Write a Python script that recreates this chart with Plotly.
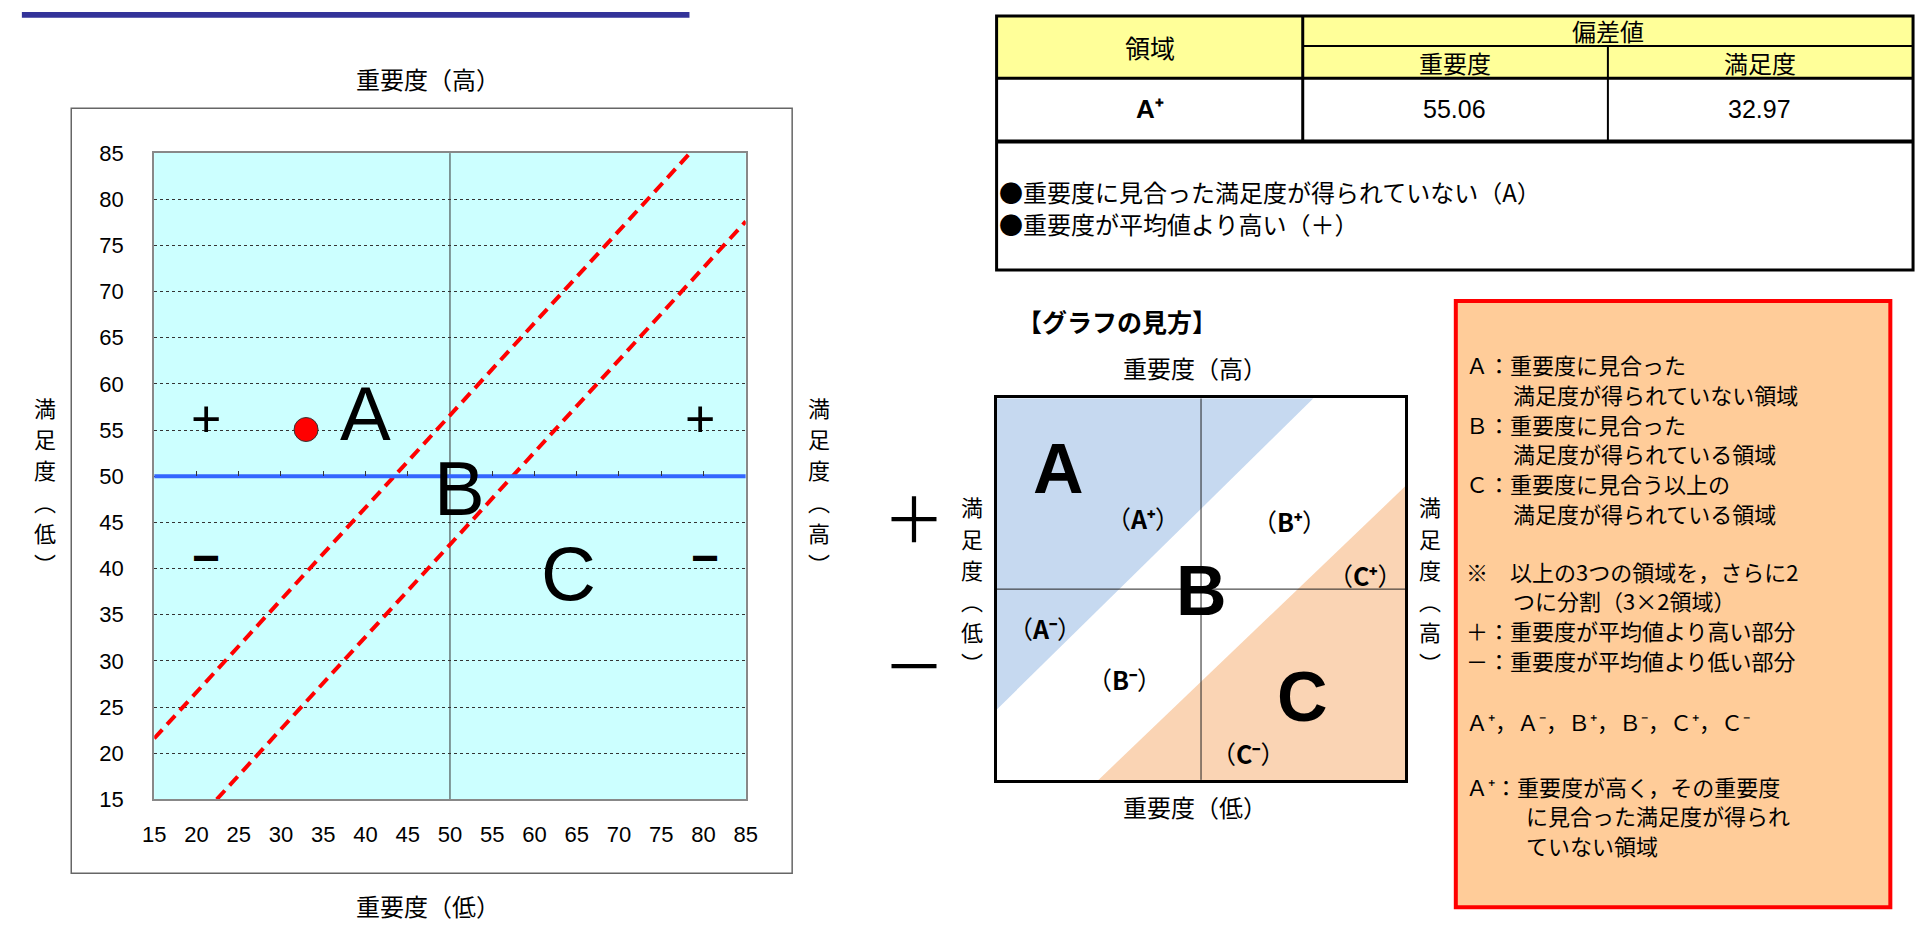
import plotly.graph_objects as go

W, H = 1929, 934


def px(x):
    return x / W


def py(y):
    return 1 - y / H


# ---------------- data ----------------
satisfaction = [32.97]          # 満足度 偏差値 (x)
importance = [55.06]            # 重要度 偏差値 (y)
axis_ticks = list(range(15, 90, 5))
axis_range = [15, 85]
mean_value = 50
inner_tick_vals = [20, 25, 30, 35, 40, 45, 55, 60, 65, 70, 75, 80]
upper_x = [15, 78.4]
upper_y = [21.6, 85]
lower_x = [22.4, 85]
lower_y = [15, 77.6]

table_region = "<b>A⁺</b>"
dev_importance = 55.06
dev_satisfaction = 32.97

# explanation diagram (0-100 schematic)
diag_range = [0, 100]
diag_mid = 50
region_a_x = [0, 77.5, 0]
region_a_y = [100, 100, 18.4]
region_c_x = [100, 24.9, 100]
region_c_y = [77.0, 0, 0]

JP = "Noto Sans CJK JP"
NUM = "Liberation Sans Narrow, Arial Narrow, Liberation Sans, Arial"
SANS = "Liberation Sans, Arial"

fig = go.Figure()

# ---------- left chart ----------
fig.add_trace(go.Scatter(x=[mean_value, mean_value], y=axis_range, mode="lines",
                         line=dict(color="#333", width=1), xaxis="x", yaxis="y",
                         hoverinfo="skip", showlegend=False))
fig.add_trace(go.Scatter(x=axis_range, y=[mean_value, mean_value], mode="lines",
                         line=dict(color="#3366FF", width=4), xaxis="x2", yaxis="y",
                         hoverinfo="skip", showlegend=False))
for lx, ly in [(upper_x, upper_y), (lower_x, lower_y)]:
    fig.add_trace(go.Scatter(x=lx, y=ly, mode="lines",
                             line=dict(color="#FF0000", width=4, dash="12px,7px"),
                             xaxis="x", yaxis="y", hoverinfo="skip", showlegend=False))
fig.add_trace(go.Scatter(x=satisfaction, y=importance, mode="markers",
                         marker=dict(color="#FF0000", size=24, line=dict(color="#333", width=1)),
                         xaxis="x", yaxis="y", showlegend=False))

# ---------- diagram ----------
fig.add_trace(go.Scatter(x=region_a_x, y=region_a_y, fill="toself", mode="lines",
                         line=dict(width=0), fillcolor="#C6D9F0", xaxis="x3", yaxis="y3",
                         hoverinfo="skip", showlegend=False))
fig.add_trace(go.Scatter(x=region_c_x, y=region_c_y, fill="toself", mode="lines",
                         line=dict(width=0), fillcolor="#FAD4B4", xaxis="x3", yaxis="y3",
                         hoverinfo="skip", showlegend=False))
fig.add_trace(go.Scatter(x=[diag_mid, diag_mid], y=diag_range, mode="lines",
                         line=dict(color="#222", width=1), xaxis="x3", yaxis="y3",
                         hoverinfo="skip", showlegend=False))
fig.add_trace(go.Scatter(x=diag_range, y=[diag_mid, diag_mid], mode="lines",
                         line=dict(color="#222", width=1), xaxis="x3", yaxis="y3",
                         hoverinfo="skip", showlegend=False))

pos50 = py(145 + (axis_range[1] - mean_value) / (axis_range[1] - axis_range[0]) * 664)

fig.update_layout(
    width=W, height=H, margin=dict(l=0, r=0, t=0, b=0),
    paper_bgcolor="white", plot_bgcolor="rgba(0,0,0,0)",
    xaxis=dict(domain=[px(144), px(743)], range=axis_range, tickvals=axis_ticks,
               ticks="outside", ticklen=14, tickcolor="rgba(0,0,0,0)",
               tickfont=dict(family=NUM, size=22, color="black"),
               showgrid=False, zeroline=False, showline=True, mirror=True,
               linecolor="#888", linewidth=2, anchor="y"),
    xaxis2=dict(range=axis_range, overlaying="x", anchor="free", position=pos50,
                side="top", tickvals=inner_tick_vals, ticks="outside", ticklen=5,
                tickcolor="#333", tickwidth=1, showticklabels=False, showgrid=False,
                zeroline=False, showline=False),
    yaxis=dict(domain=[py(809), py(145)], range=axis_range, tickvals=axis_ticks,
               ticks="outside", ticklen=24, tickcolor="rgba(0,0,0,0)",
               tickfont=dict(family=NUM, size=22, color="black"),
               showgrid=True, gridcolor="#333", griddash="dot", gridwidth=1,
               zeroline=False, showline=True, mirror=True, linecolor="#888",
               linewidth=2, anchor="x"),
    xaxis3=dict(domain=[px(997), px(1411)], range=diag_range, showgrid=False,
                zeroline=False, showticklabels=False, ticks="", showline=True,
                mirror=True, linecolor="black", linewidth=3, anchor="y3"),
    yaxis3=dict(domain=[py(789), py(397)], range=diag_range, showgrid=False,
                zeroline=False, showticklabels=False, ticks="", showline=True,
                mirror=True, linecolor="black", linewidth=3, anchor="x3"),
)

shapes = []
# cyan plot background
shapes.append(dict(type="rect", xref="x domain", yref="y domain", x0=0, x1=1, y0=0, y1=1,
                   fillcolor="#CCFFFF", line=dict(width=0), layer="below"))
# outer box of left chart
shapes.append(dict(type="rect", xref="paper", yref="paper", x0=px(60), x1=px(790),
                   y0=py(885), y1=py(99), line=dict(color="#666", width=1.5), layer="below"))
# top blue bar
shapes.append(dict(type="rect", xref="paper", yref="paper", x0=px(10), x1=px(686),
                   y0=py(6), y1=py(0), fillcolor="#333399", line=dict(width=0)))
# table
shapes.append(dict(type="rect", xref="paper", yref="paper", x0=px(997), x1=px(1925),
                   y0=py(68), y1=py(4), fillcolor="#FFFF99", line=dict(width=0), layer="below"))
shapes.append(dict(type="rect", xref="paper", yref="paper", x0=px(997), x1=px(1925),
                   y0=py(265), y1=py(4), line=dict(color="black", width=3)))


def hline(x0, x1, y, w):
    shapes.append(dict(type="line", xref="paper", yref="paper", x0=px(x0), x1=px(x1),
                       y0=py(y), y1=py(y), line=dict(color="black", width=w)))


def vline(x, y0, y1, w):
    shapes.append(dict(type="line", xref="paper", yref="paper", x0=px(x), x1=px(x),
                       y0=py(y0), y1=py(y1), line=dict(color="black", width=w)))


hline(997, 1925, 68, 3)
hline(997, 1925, 133, 4)
hline(1307, 1925, 35, 2)
vline(1307, 4, 133, 3)
vline(1616, 35, 133, 2)
# red explanation box
shapes.append(dict(type="rect", xref="paper", yref="paper", x0=px(1462), x1=px(1902),
                   y0=py(920), y1=py(297), fillcolor="#FFCC99",
                   line=dict(color="#FF0000", width=4), layer="below"))
fig.update_layout(shapes=shapes)

anns = []


def ann(text, x, y, size, family=JP, xanchor="center", yanchor="middle", align="center"):
    anns.append(dict(text=text, x=px(x), y=py(y), xref="paper", yref="paper",
                     showarrow=False, xanchor=xanchor, yanchor=yanchor, align=align,
                     borderpad=0, font=dict(family=family, size=size, color="black")))


def dann(text, x, y, size, family=SANS, xr="x", yr="y"):
    anns.append(dict(text=text, x=x, y=y, xref=xr, yref=yr, showarrow=False,
                     xanchor="center", yanchor="middle", borderpad=0,
                     font=dict(family=family, size=size, color="black")))


def vertical(chars, x, ys, size):
    for ch, y in zip(chars, ys):
        ann(ch, x, y, size)


col_y_left = [406, 438, 470, 502, 534, 566]
col_y_diag = [508, 540, 572, 604, 636, 668]

# left chart titles
ann("重要度（高）", 421, 68, 24)
ann("重要度（低）", 421, 918, 24)
vertical(["満", "足", "度", "︵", "低", "︶"], 33, col_y_left, 22)
vertical(["満", "足", "度", "︵", "高", "︶"], 817, col_y_left, 22)

# in-plot letters
dann("A", 40.0, 56.8, 76)
dann("B", 51.1, 48.7, 76)
dann("C", 64.0, 39.5, 76)
dann("+", 21.1, 56.2, 52)
dann("+", 79.6, 56.2, 52)
dann("<b>−</b>", 21.1, 41.2, 48)
dann("<b>−</b>", 80.2, 41.2, 48)

# table texts
ann("領域", 1152, 36, 25)
ann("偏差値", 1616, 19, 24)
ann("重要度", 1461, 52, 24)
ann("満足度", 1770, 52, 24)
ann(table_region, 1152, 100, 26, family=SANS)
ann(f"{dev_importance:.2f}", 1461, 100, 25, family=NUM)
ann(f"{dev_satisfaction:.2f}", 1770, 100, 25, family=NUM)
ann("●重要度に見合った満足度が得られていない（A）", 998, 184, 24, xanchor="left")
ann("●重要度が平均値より高い（＋）", 998, 217, 24, xanchor="left")

# diagram
ann("<b>【グラフの見方】</b>", 1119, 317, 25)
ann("重要度（高）", 1198, 365, 24)
ann("重要度（低）", 1198, 816, 24)
vertical(["満", "足", "度", "︵", "低", "︶"], 972, col_y_diag, 22)
vertical(["満", "足", "度", "︵", "高", "︶"], 1436, col_y_diag, 22)
ann("＋", 913, 518, 62)
ann("－", 913, 669, 62)
dann("<b>A</b>", 15.2, 81.5, 70, xr="x3", yr="y3")
dann("<b>B</b>", 50.0, 49.5, 70, xr="x3", yr="y3")
dann("<b>C</b>", 74.9, 21.7, 70, xr="x3", yr="y3")
for lab, x, y in [("A⁺", 35.7, 68.6), ("B⁺", 71.7, 67.9), ("C⁺", 90.1, 53.8),
                  ("A⁻", 11.8, 39.8), ("B⁻", 31.2, 26.5), ("C⁻", 61.5, 7.0)]:
    dann(f"（<b>{lab}</b>）", x, y, 25, family=JP, xr="x3", yr="y3")

# red box text
box_lines = [
    ("Ａ：重要度に見合った", 1471, 362),
    ("満足度が得られていない領域", 1519, 392.5),
    ("Ｂ：重要度に見合った", 1471, 423),
    ("満足度が得られている領域", 1519, 453.5),
    ("Ｃ：重要度に見合う以上の", 1471, 484),
    ("満足度が得られている領域", 1519, 514.5),
    ("※　以上の3つの領域を，さらに2", 1471, 574),
    ("つに分割（3×2領域）", 1519, 604.5),
    ("＋：重要度が平均値より高い部分", 1471, 635),
    ("－：重要度が平均値より低い部分", 1471, 665.5),
    ("Ａ⁺，Ａ⁻，Ｂ⁺，Ｂ⁻，Ｃ⁺，Ｃ⁻", 1471, 728),
    ("Ａ⁺：重要度が高く，その重要度", 1471, 795),
    ("に見合った満足度が得られ", 1532, 825.5),
    ("ていない領域", 1532, 856),
]
for t, x, y in box_lines:
    ann(t, x, y, 22, xanchor="left", align="left")

fig.update_layout(annotations=anns)
fig.write_html("out.html", config={"displayModeBar": False},
               post_script="document.body.style.margin='0';document.body.style.overflow='hidden';")
